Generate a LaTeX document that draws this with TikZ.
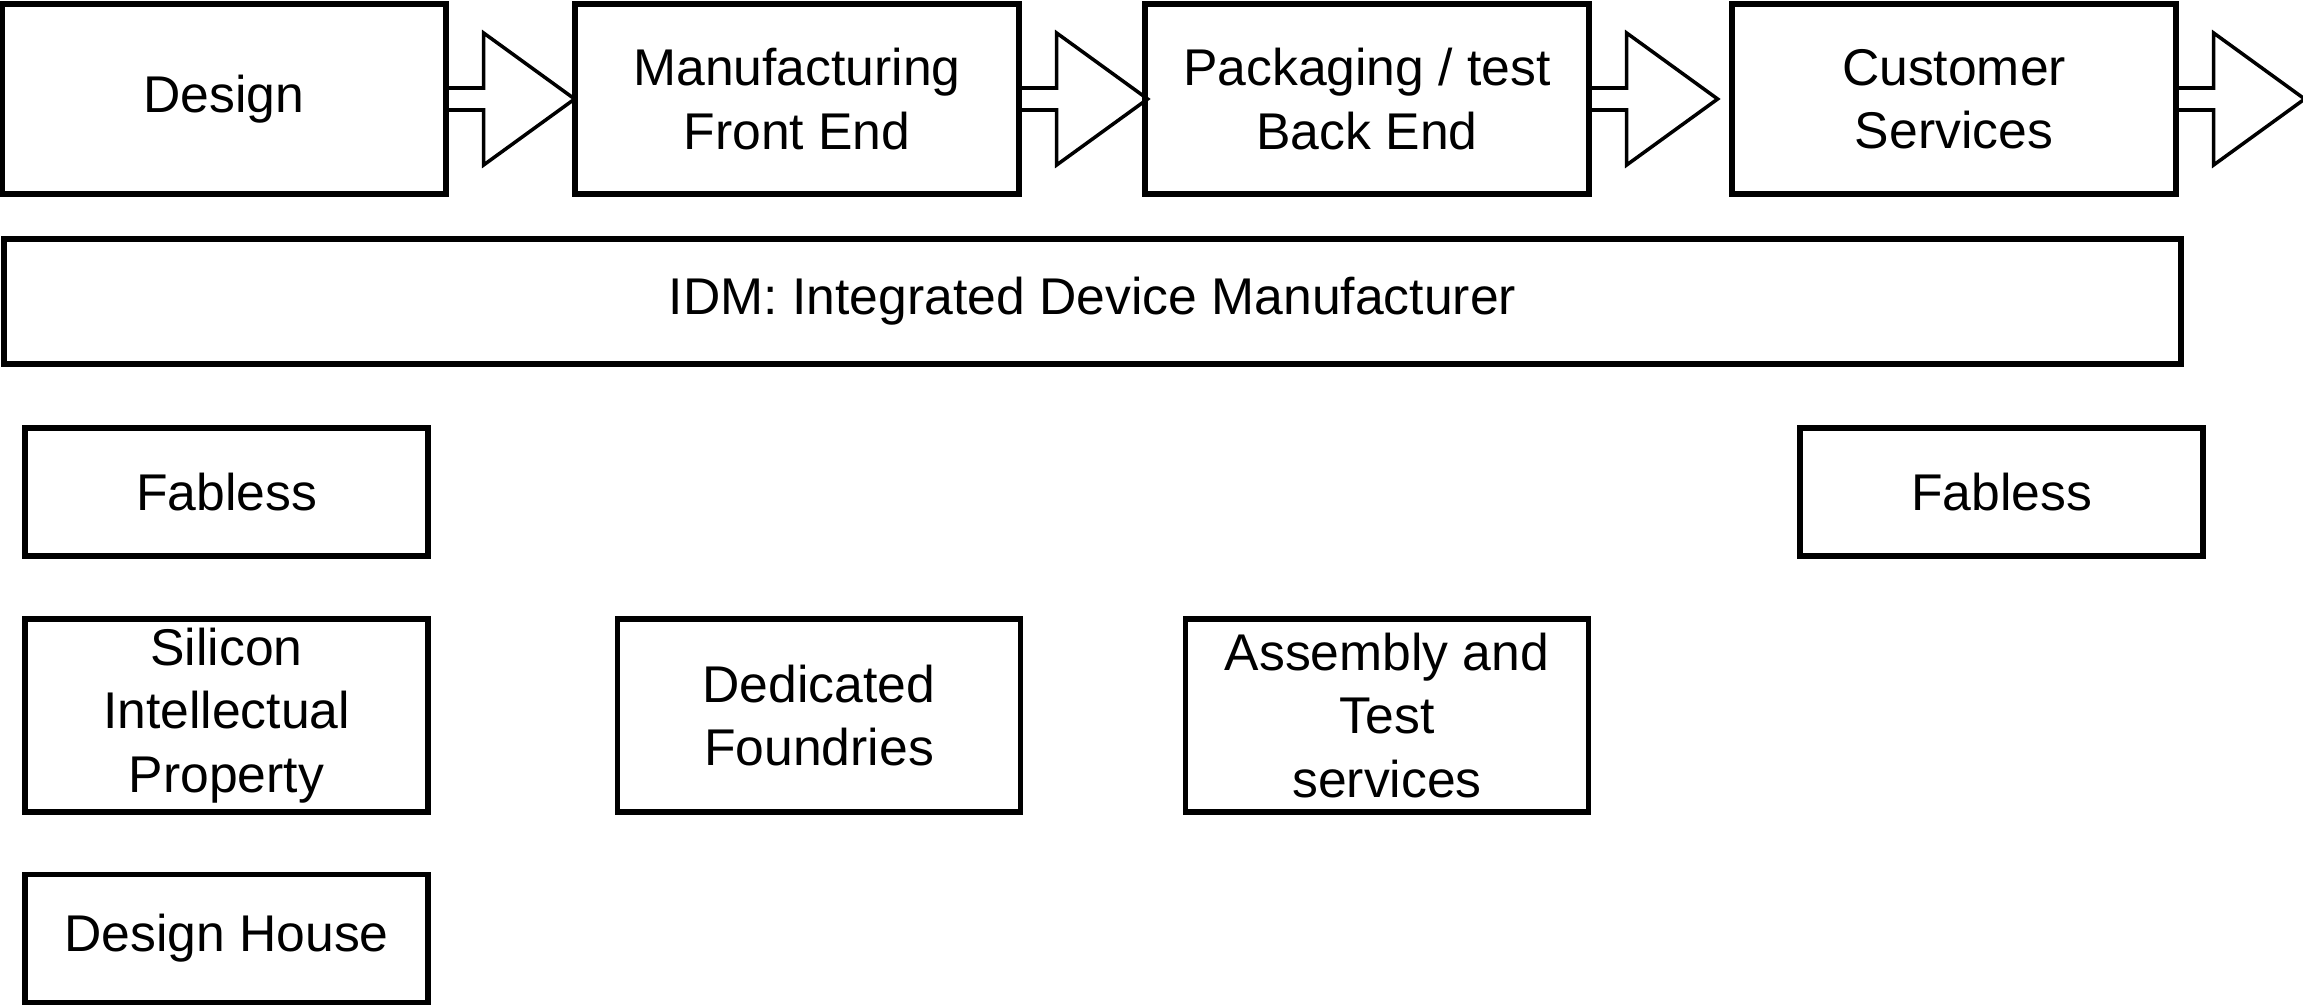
\documentclass[tikz,border=0pt]{standalone}
\usepackage{fontspec}
\setmainfont{Liberation Sans}
\usetikzlibrary{positioning}
\tikzset{
    every picture/.style={
        font=\fontsize{14.7}{18}\selectfont,
        line join=miter
    },
    % Value chain boxes
    stage/.style={rectangle,draw=black,line width=1.5pt,minimum width=4.44cm,minimum height=1.90cm,align=center,inner sep=0pt},
    band/.style={rectangle,draw=black,line width=1.5pt,minimum width=21.77cm,minimum height=1.25cm,align=center,inner sep=0pt},
    player/.style={rectangle,draw=black,line width=1.5pt,minimum width=4.03cm,minimum height=1.28cm,align=center,inner sep=0pt},
    tallplayer/.style={player,minimum height=1.93cm},
    % Block arrows between stages
    blockarrow/.style={draw=black,line width=1pt}
}

\begin{document}
\begin{tikzpicture}
    \useasboundingbox (0,0) rectangle (23.03,10.04);

    % Value chain
    \node[stage] (design)   at (2.24,9.05)  {Design};
    \node[stage] (frontend) at (7.97,9.05)  {Manufacturing\\Front End};
    \node[stage] (backend)  at (13.67,9.05) {Packaging / test\\Back End};
    \node[stage] (services) at (19.54,9.05) {Customer\\Services};

    \foreach \src in {design,frontend,backend,services}{
        \draw[blockarrow] (\src.east) ++(0,0.11) -- ++(0.35,0) -- ++(0,0.55)
            -- ++(0.91,-0.66) -- ++(-0.91,-0.66) -- ++(0,0.55) -- ++(-0.35,0);
    }

    % IDM covers the whole chain
    \node[band] (idm) at (10.925,7.025) {IDM: Integrated Device Manufacturer};

    % Specialised players
    \node[player] (fablessA) at (2.265,5.12)  {Fabless};
    \node[player] (fablessB) at (20.015,5.12) {Fabless};

    \node[tallplayer] (sip)      at (2.265,2.885) {Silicon\\Intellectual\\Property};
    \node[tallplayer] (foundry)  at (8.19,2.885)  {Dedicated\\Foundries};
    \node[tallplayer] (assembly) at (13.87,2.885) {Assembly and\\Test\\services};

    \node[player] (house) at (2.265,0.655) {Design House};
\end{tikzpicture}
\end{document}
